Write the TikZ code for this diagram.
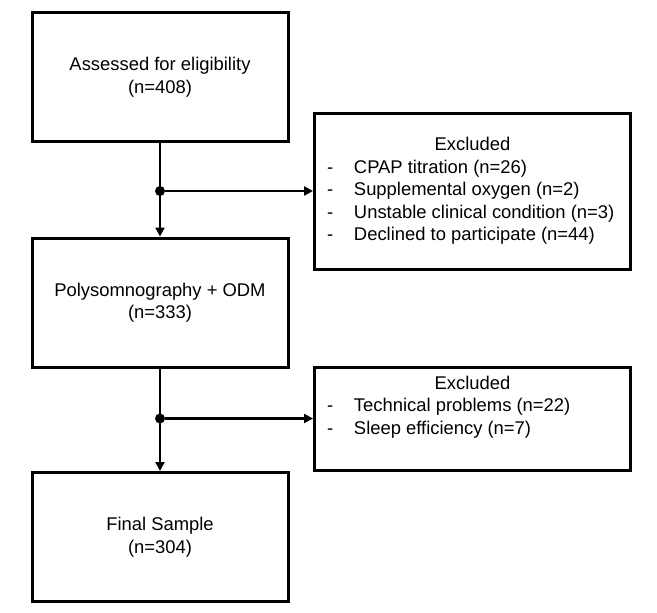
\documentclass[tikz,border=0pt]{standalone}
\usepackage{fontspec}
\setmainfont{Liberation Sans}
\usetikzlibrary{arrows.meta,calc}

\begin{document}
\begin{tikzpicture}[
    x=1pt, y=-1pt,
    font=\fontsize{18.4}{22.5}\selectfont,
    stage/.style={rectangle, draw, line width=3pt, align=center, minimum width=256pt, minimum height=129pt},
    excluded/.style={rectangle, draw, line width=3pt, inner sep=0pt, minimum width=316pt},
    flow/.style={-{Triangle[length=9pt,width=9pt]}, line width=2.4pt},
    junction/.style={circle, fill, inner sep=0pt, minimum size=10pt}
]
\useasboundingbox (0,0) rectangle (657,613);

% Stages
\node[stage] (assess) at (160,77) {Assessed for eligibility\\(n=408)};
\node[stage] (poly) at (160,302.5) {Polysomnography + ODM\\(n=333)};
\node[stage] (final) at (160,537) {Final Sample\\(n=304)};

% Exclusions
\node[excluded, minimum height=156pt] (excla) at (472.5,191) {%
  \begin{tabular}{@{}p{27pt}@{}p{264pt}@{}}
  \multicolumn{2}{c}{Excluded}\\
  - & CPAP titration (n=26)\\
  - & Supplemental oxygen (n=2)\\
  - & Unstable clinical condition (n=3)\\
  - & Declined to participate (n=44)
  \end{tabular}};
\node[excluded, minimum height=103pt] (exclb) at (472.5,418.5) {%
  \begin{tabular}{@{}p{27pt}@{}p{264pt}@{}}
  \multicolumn{2}{c}{Excluded}\\
  - & Technical problems (n=22)\\
  - & Sleep efficiency (n=7)\\
  &
  \end{tabular}};

% Junctions
\node[junction] (ja) at (assess.south |- excla.west) {};
\node[junction] (jb) at (poly.south |- exclb.west) {};

% Arrows
\draw[flow] (assess.south) -- (poly.north);
\draw[flow] (poly.south) -- (final.north);
\draw[flow] (ja) -- (excla.west);
\draw[flow] (jb) -- (exclb.west);

\end{tikzpicture}
\end{document}
